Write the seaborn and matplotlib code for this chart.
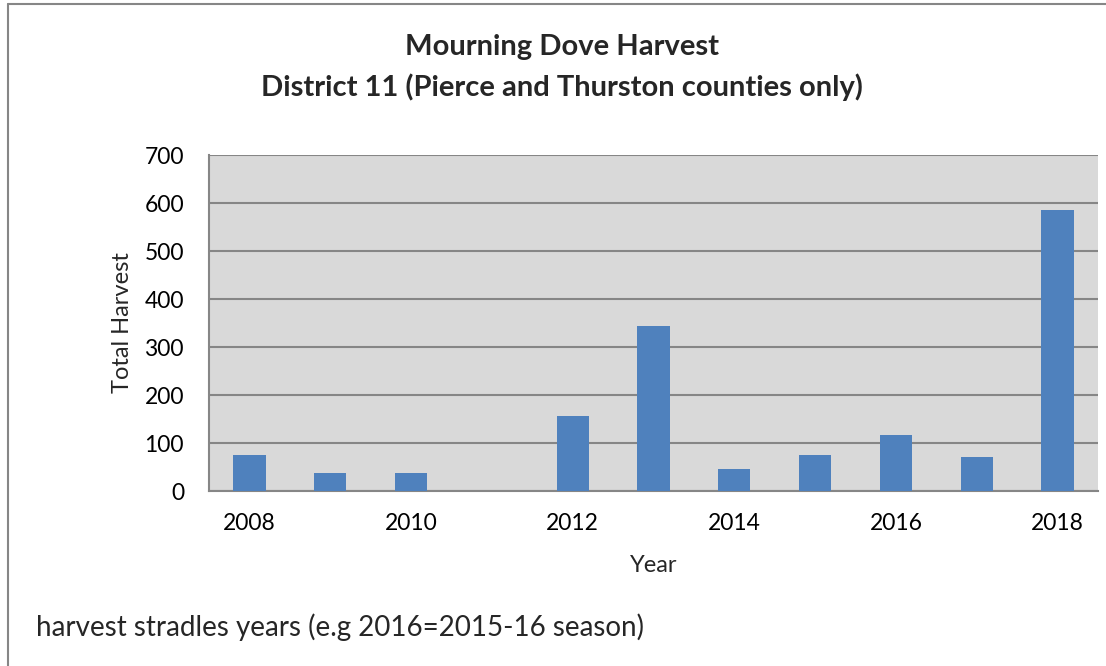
import pandas as pd
import matplotlib.pyplot as plt
import seaborn as sns
import numpy as np

years = ["2008", "2009", "2010", "2011", "2012", "2013",
         "2014", "2015", "2016", "2017", "2018"]
harvest = [74, 38, 38, np.nan, 157, 343, 45, 76, 116, 71, 586]
shown_years = ["2008", "2010", "2012", "2014", "2016", "2018"]

df = pd.DataFrame({"Year": years, "Total Harvest": harvest})

sns.set_style("white")
plt.rcParams['font.family'] = ['Lato', 'DejaVu Sans']

fig = plt.figure(figsize=(11.06, 6.66), dpi=100)
ax = fig.add_axes([209 / 1106, 1 - 491 / 666, (1098 - 209) / 1106, (491 - 155) / 666])
ax.set_facecolor("#d9d9d9")

sns.barplot(data=df, x="Year", y="Total Harvest", order=years,
            color="#4f81bd", saturation=1, width=0.4, linewidth=0, ax=ax, zorder=3)

ax.set_ylim(0, 700)
ax.set_yticks(range(0, 701, 100))
ax.set_xlim(-0.5, len(years) - 0.5)
ax.set_xticks([years.index(y) for y in shown_years])
ax.set_xticklabels(shown_years)
ax.yaxis.grid(True, color="#868686", linewidth=1.5, zorder=0)
ax.set_axisbelow(True)
ax.tick_params(axis="both", length=0, labelsize=16.5, colors="black")
ax.tick_params(axis="x", pad=16)
ax.tick_params(axis="y", pad=18)

for s in ["top", "right"]:
    ax.spines[s].set_visible(False)
for s in ["left", "bottom"]:
    ax.spines[s].set_color("#868686")
    ax.spines[s].set_linewidth(1.5)

ax.set_xlabel("Year", fontsize=17, labelpad=15)
ax.set_ylabel("Total Harvest", fontsize=17, labelpad=8)

fig.text(562 / 1106, 1 - 47 / 666, "Mourning Dove Harvest", ha="center", va="center",
         fontsize=21, fontweight="bold")
fig.text(562 / 1106, 1 - 87 / 666, "District 11 (Pierce and Thurston counties only)",
         ha="center", va="center", fontsize=21, fontweight="bold")
fig.text(36 / 1106, 1 - 627 / 666, "harvest stradles years (e.g 2016=2015-16 season)",
         ha="left", va="center", fontsize=20)

# outer chart frame (left and top edges visible)
fig.add_artist(plt.Line2D([8 / 1106, 8 / 1106], [0, 1 - 4 / 666], transform=fig.transFigure,
                          color="#868686", linewidth=1.5))
fig.add_artist(plt.Line2D([8 / 1106, 1], [1 - 4 / 666, 1 - 4 / 666], transform=fig.transFigure,
                          color="#868686", linewidth=1.5))

fig.savefig("out.png", dpi=100)
